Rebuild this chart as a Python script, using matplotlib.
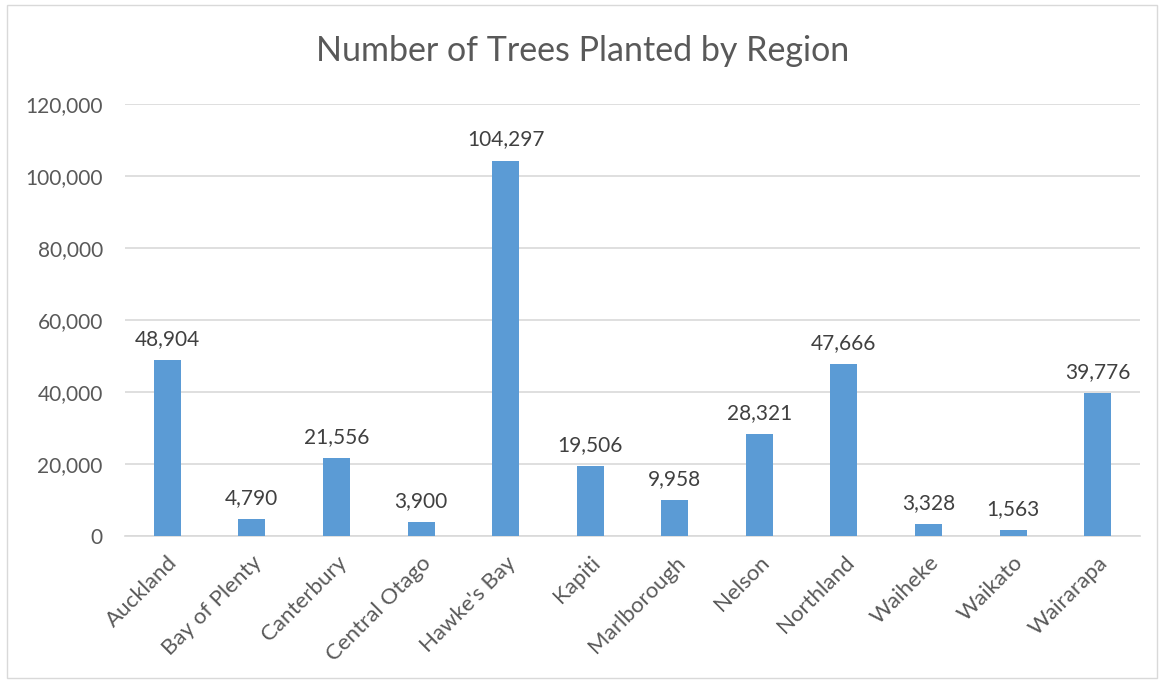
import matplotlib.pyplot as plt
from matplotlib.patches import Rectangle
from matplotlib.ticker import FuncFormatter

regions = ["Auckland", "Bay of Plenty", "Canterbury", "Central Otago", "Hawke's Bay",
           "Kapiti", "Marlborough", "Nelson", "Northland", "Waiheke", "Waikato", "Wairarapa"]
trees = [48904, 4790, 21556, 3900, 104297, 19506, 9958, 28321, 47666, 3328, 1563, 39776]
yticks = [0, 20000, 40000, 60000, 80000, 100000, 120000]

plt.rcParams['font.family'] = ['Lato', 'DejaVu Sans']
textColor = "#595959"

fig = plt.figure(figsize=(11.65, 6.82), dpi=100)
ax = fig.add_axes([125 / 1165, 1 - 536 / 682, (1140 - 125) / 1165, (536 - 104) / 682])

x = list(range(len(regions)))
ax.bar(x, trees, width=0.32, color="#5B9BD5", zorder=3)
for xi, v in zip(x, trees):
    ax.annotate(f"{v:,}", (xi, v), xytext=(0, 8), textcoords="offset points",
                ha="center", va="bottom", fontsize=15, color="#404040")

ax.set_xlim(-0.5, len(regions) - 0.5)
ax.set_ylim(0, 120000)
ax.set_yticks(yticks)
ax.yaxis.set_major_formatter(FuncFormatter(lambda v, p: f"{int(v):,}"))
ax.set_xticks(x)
ax.set_xticklabels(regions, rotation=45, ha="right", rotation_mode="anchor")
ax.tick_params(axis="y", length=0, labelsize=15, colors=textColor, pad=16)
ax.tick_params(axis="x", length=0, labelsize=16, colors=textColor, pad=12)
ax.grid(axis="y", color="#D9D9D9", linewidth=1.2, zorder=0)
for s in ["top", "right", "left"]:
    ax.spines[s].set_visible(False)
ax.spines["bottom"].set_color("#D9D9D9")
ax.spines["bottom"].set_linewidth(1.2)

fig.text(0.5, 1 - 51 / 682, "Number of Trees Planted by Region", ha="center", va="center",
         fontsize=24.5, color=textColor)
fig.patches.append(Rectangle((7 / 1165, 1 - 678 / 682), 1150 / 1165, 673 / 682,
                             transform=fig.transFigure, fill=False, edgecolor="#D9D9D9", linewidth=1))

fig.savefig("out.png", dpi=100)
